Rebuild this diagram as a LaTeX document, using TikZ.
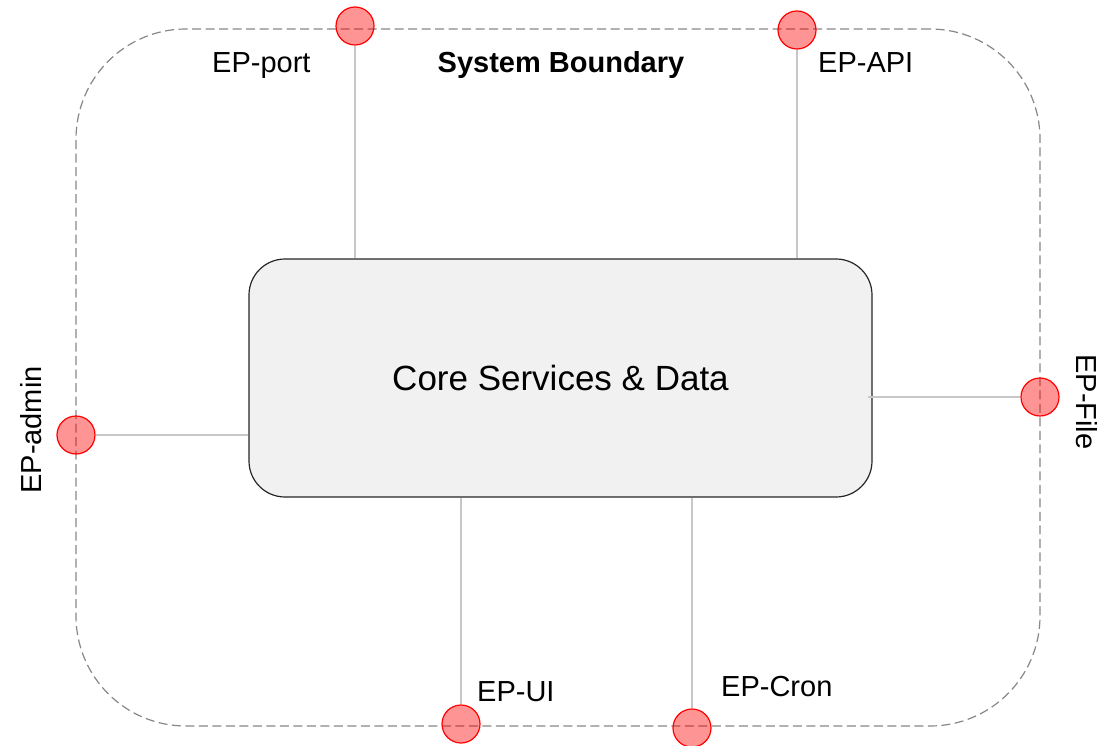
\documentclass[tikz,border=0pt]{standalone}
\usepackage{fontspec}
\setmainfont{Liberation Sans}
\begin{document}
\begin{tikzpicture}[x=1pt,y=-1pt,
  boundary/.style={draw=black!47, line width=1.2pt, dash pattern=on 9pt off 4.5pt,
    rounded corners=110pt, minimum width=964pt, minimum height=697pt, inner sep=0pt},
  corebox/.style={draw=black!85, fill=black!5.5, line width=1.2pt, rounded corners=36pt,
    minimum width=623pt, minimum height=238pt, inner sep=0pt},
  endpoint/.style={circle, draw=red, fill=red, fill opacity=0.42, line width=1.2pt,
    minimum size=38pt, inner sep=0pt},
  link/.style={draw=black!22, line width=1.2pt},
  eplabel/.style={font=\fontsize{29}{33}\selectfont, inner sep=0pt},
]
\useasboundingbox (0,0) rectangle (1116,746);

% dashed system boundary and the core block
\node[boundary] (sys) at (558,377.5) {};
\node[corebox] (core) at (560.5,378) {};
\node[font=\fontsize{35}{40}\selectfont, inner sep=0pt, anchor=base] (coretext) at (560.5,390) {Core Services \& Data};

% endpoints on the boundary
\node[endpoint] (port) at (355,26) {};
\node[endpoint] (api) at (797,30) {};
\node[endpoint] (admin) at (76,435) {};
\node[endpoint] (file) at (1040,397) {};
\node[endpoint] (ui) at (461,724) {};
\node[endpoint] (cron) at (692,728) {};

% connectors from each endpoint to the core
\draw[link] (port.south) -- (port.south |- core.north);
\draw[link] (api.south) -- (api.south |- core.north);
\draw[link] (admin.east) -- (admin.east -| core.west);
\draw[link] (file.west) -- ([xshift=-5pt]file.west -| core.east);
\draw[link] (ui.north) -- (ui.north |- core.south);
\draw[link] (cron.north) -- (cron.north |- core.south);

% labels
\node[eplabel, font=\fontsize{29}{33}\selectfont\bfseries, anchor=base] (title) at (561,73) {System Boundary};
\node[eplabel, anchor=base west] (lport) at (212,73) {EP-port};
\node[eplabel, anchor=base west] (lapi) at (818,73) {EP-API};
\node[eplabel, anchor=base, rotate=90] (ladmin) at (41,430) {EP-admin};
\node[eplabel, anchor=base, rotate=-90] (lfile) at (1076,402) {EP-File};
\node[eplabel, anchor=base west] (lui) at (477,701) {EP-UI};
\node[eplabel, anchor=base west] (lcron) at (721,696) {EP-Cron};
\end{tikzpicture}
\end{document}
